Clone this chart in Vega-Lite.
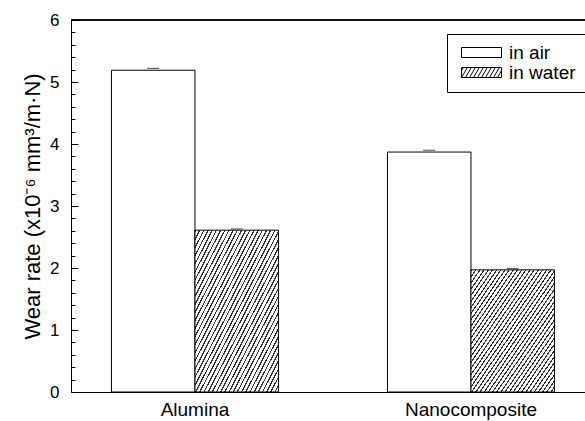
{
 "$schema": "https://vega.github.io/schema/vega-lite/v6.json",
 "width": 514, "height": 372,
 "autosize": {"type": "none"},
 "padding": {"left": 71, "top": 20, "right": 0, "bottom": 29},
 "background": "white",
 "data": {"values": [
  {"material": "Alumina", "condition": "in air", "rate": 5.19, "hi": 5.22},
  {"material": "Alumina", "condition": "in water", "rate": 2.61, "hi": 2.63},
  {"material": "Nanocomposite", "condition": "in air", "rate": 3.87, "hi": 3.9},
  {"material": "Nanocomposite", "condition": "in water", "rate": 1.97, "hi": 1.99}
 ]},
 "layer": [
  {"mark": {"type": "bar", "stroke": "black", "strokeWidth": 1},
   "encoding": {
    "x": {"field": "material", "type": "nominal", "sort": ["Alumina", "Nanocomposite"],
     "scale": {"paddingInner": 0.395, "paddingOuter": 0.1286, "align": 0.57},
     "axis": {"title": null, "labelAngle": 0, "ticks": false, "domain": true, "domainColor": "black", "domainWidth": 1, "labelPadding": 8, "labelFontSize": 19, "labelColor": "black", "labelFont": "Liberation Sans"}},
    "xOffset": {"field": "condition", "type": "nominal", "sort": ["in air", "in water"], "scale": {"paddingInner": 0, "paddingOuter": 0}},
    "y": {"field": "rate", "type": "quantitative", "title": "Wear rate (x10⁻⁶ mm³/m·N)",
     "scale": {"domain": [0, 6], "nice": false},
     "axis": {"values": [0, 1, 2, 3, 4, 5, 6], "format": "d", "labelOverlap": false,
      "tickSize": -7, "tickColor": "black", "domain": true, "domainColor": "black", "domainWidth": 1, "grid": false,
      "labelPadding": 19, "labelFontSize": 17, "labelColor": "black", "labelFont": "Liberation Sans",
      "titleFontSize": 22, "titleFontWeight": "normal", "titleColor": "black", "titleFont": "Liberation Sans", "titlePadding": 5}},
    "fill": {"condition": {"test": "datum.condition === 'in water'", "value": {"gradient": "linear", "x1": 0, "y1": 0, "x2": 1, "y2": 1, "stops": [
      {"offset":0,"color":"#333"},{"offset":0.008,"color":"#333"},{"offset":0.008,"color":"#fff"},{"offset":0.025,"color":"#fff"},
      {"offset":0.025,"color":"#333"},{"offset":0.033,"color":"#333"},{"offset":0.033,"color":"#fff"},{"offset":0.05,"color":"#fff"},
      {"offset":0.05,"color":"#333"},{"offset":0.058,"color":"#333"},{"offset":0.058,"color":"#fff"},{"offset":0.075,"color":"#fff"},
      {"offset":0.075,"color":"#333"},{"offset":0.083,"color":"#333"},{"offset":0.083,"color":"#fff"},{"offset":0.1,"color":"#fff"},
      {"offset":0.1,"color":"#333"},{"offset":0.108,"color":"#333"},{"offset":0.108,"color":"#fff"},{"offset":0.125,"color":"#fff"},
      {"offset":0.125,"color":"#333"},{"offset":0.133,"color":"#333"},{"offset":0.133,"color":"#fff"},{"offset":0.15,"color":"#fff"},
      {"offset":0.15,"color":"#333"},{"offset":0.158,"color":"#333"},{"offset":0.158,"color":"#fff"},{"offset":0.175,"color":"#fff"},
      {"offset":0.175,"color":"#333"},{"offset":0.183,"color":"#333"},{"offset":0.183,"color":"#fff"},{"offset":0.2,"color":"#fff"},
      {"offset":0.2,"color":"#333"},{"offset":0.208,"color":"#333"},{"offset":0.208,"color":"#fff"},{"offset":0.225,"color":"#fff"},
      {"offset":0.225,"color":"#333"},{"offset":0.233,"color":"#333"},{"offset":0.233,"color":"#fff"},{"offset":0.25,"color":"#fff"},
      {"offset":0.25,"color":"#333"},{"offset":0.258,"color":"#333"},{"offset":0.258,"color":"#fff"},{"offset":0.275,"color":"#fff"},
      {"offset":0.275,"color":"#333"},{"offset":0.283,"color":"#333"},{"offset":0.283,"color":"#fff"},{"offset":0.3,"color":"#fff"},
      {"offset":0.3,"color":"#333"},{"offset":0.308,"color":"#333"},{"offset":0.308,"color":"#fff"},{"offset":0.325,"color":"#fff"},
      {"offset":0.325,"color":"#333"},{"offset":0.333,"color":"#333"},{"offset":0.333,"color":"#fff"},{"offset":0.35,"color":"#fff"},
      {"offset":0.35,"color":"#333"},{"offset":0.358,"color":"#333"},{"offset":0.358,"color":"#fff"},{"offset":0.375,"color":"#fff"},
      {"offset":0.375,"color":"#333"},{"offset":0.383,"color":"#333"},{"offset":0.383,"color":"#fff"},{"offset":0.4,"color":"#fff"},
      {"offset":0.4,"color":"#333"},{"offset":0.408,"color":"#333"},{"offset":0.408,"color":"#fff"},{"offset":0.425,"color":"#fff"},
      {"offset":0.425,"color":"#333"},{"offset":0.433,"color":"#333"},{"offset":0.433,"color":"#fff"},{"offset":0.45,"color":"#fff"},
      {"offset":0.45,"color":"#333"},{"offset":0.458,"color":"#333"},{"offset":0.458,"color":"#fff"},{"offset":0.475,"color":"#fff"},
      {"offset":0.475,"color":"#333"},{"offset":0.483,"color":"#333"},{"offset":0.483,"color":"#fff"},{"offset":0.5,"color":"#fff"},
      {"offset":0.5,"color":"#333"},{"offset":0.508,"color":"#333"},{"offset":0.508,"color":"#fff"},{"offset":0.525,"color":"#fff"},
      {"offset":0.525,"color":"#333"},{"offset":0.533,"color":"#333"},{"offset":0.533,"color":"#fff"},{"offset":0.55,"color":"#fff"},
      {"offset":0.55,"color":"#333"},{"offset":0.558,"color":"#333"},{"offset":0.558,"color":"#fff"},{"offset":0.575,"color":"#fff"},
      {"offset":0.575,"color":"#333"},{"offset":0.583,"color":"#333"},{"offset":0.583,"color":"#fff"},{"offset":0.6,"color":"#fff"},
      {"offset":0.6,"color":"#333"},{"offset":0.608,"color":"#333"},{"offset":0.608,"color":"#fff"},{"offset":0.625,"color":"#fff"},
      {"offset":0.625,"color":"#333"},{"offset":0.633,"color":"#333"},{"offset":0.633,"color":"#fff"},{"offset":0.65,"color":"#fff"},
      {"offset":0.65,"color":"#333"},{"offset":0.658,"color":"#333"},{"offset":0.658,"color":"#fff"},{"offset":0.675,"color":"#fff"},
      {"offset":0.675,"color":"#333"},{"offset":0.683,"color":"#333"},{"offset":0.683,"color":"#fff"},{"offset":0.7,"color":"#fff"},
      {"offset":0.7,"color":"#333"},{"offset":0.708,"color":"#333"},{"offset":0.708,"color":"#fff"},{"offset":0.725,"color":"#fff"},
      {"offset":0.725,"color":"#333"},{"offset":0.733,"color":"#333"},{"offset":0.733,"color":"#fff"},{"offset":0.75,"color":"#fff"},
      {"offset":0.75,"color":"#333"},{"offset":0.758,"color":"#333"},{"offset":0.758,"color":"#fff"},{"offset":0.775,"color":"#fff"},
      {"offset":0.775,"color":"#333"},{"offset":0.783,"color":"#333"},{"offset":0.783,"color":"#fff"},{"offset":0.8,"color":"#fff"},
      {"offset":0.8,"color":"#333"},{"offset":0.808,"color":"#333"},{"offset":0.808,"color":"#fff"},{"offset":0.825,"color":"#fff"},
      {"offset":0.825,"color":"#333"},{"offset":0.833,"color":"#333"},{"offset":0.833,"color":"#fff"},{"offset":0.85,"color":"#fff"},
      {"offset":0.85,"color":"#333"},{"offset":0.858,"color":"#333"},{"offset":0.858,"color":"#fff"},{"offset":0.875,"color":"#fff"},
      {"offset":0.875,"color":"#333"},{"offset":0.883,"color":"#333"},{"offset":0.883,"color":"#fff"},{"offset":0.9,"color":"#fff"},
      {"offset":0.9,"color":"#333"},{"offset":0.908,"color":"#333"},{"offset":0.908,"color":"#fff"},{"offset":0.925,"color":"#fff"},
      {"offset":0.925,"color":"#333"},{"offset":0.933,"color":"#333"},{"offset":0.933,"color":"#fff"},{"offset":0.95,"color":"#fff"},
      {"offset":0.95,"color":"#333"},{"offset":0.958,"color":"#333"},{"offset":0.958,"color":"#fff"},{"offset":0.975,"color":"#fff"},
      {"offset":0.975,"color":"#333"},{"offset":0.983,"color":"#333"},{"offset":0.983,"color":"#fff"},{"offset":1,"color":"#fff"}
     ]}}, "value": "white"}
   }
  },
  {"mark": {"type": "tick", "color": "black", "size": 12, "thickness": 1},
   "encoding": {
    "x": {"field": "material", "type": "nominal", "sort": ["Alumina", "Nanocomposite"], "axis": null},
    "xOffset": {"field": "condition", "type": "nominal", "sort": ["in air", "in water"]},
    "y": {"field": "hi", "type": "quantitative",
     "axis": {"orient": "left", "title": null, "labels": false, "domain": false, "grid": false,
      "values": [0.2,0.4,0.6,0.8,1.2,1.4,1.6,1.8,2.2,2.4,2.6,2.8,3.2,3.4,3.6,3.8,4.2,4.4,4.6,4.8,5.2,5.4,5.6,5.8],
      "tickSize": -4, "tickColor": "black"}}}},
  {"mark": {"type": "rule", "color": "black", "strokeWidth": 1},
   "encoding": {"y": {"datum": 6, "type": "quantitative", "axis": null}}},
  {"mark": {"type": "point", "size": 0, "opacity": 1, "filled": false, "color": "black", "strokeWidth": 1},
   "encoding": {
    "x": {"field": "material", "type": "nominal", "sort": ["Alumina", "Nanocomposite"], "axis": null},
    "xOffset": {"field": "condition", "type": "nominal", "sort": ["in air", "in water"]},
    "y": {"field": "rate", "type": "quantitative", "axis": null},
    "shape": {"field": "condition", "type": "nominal", "sort": ["in air", "in water"],
     "scale": {"range": ["M-4,-1H4V1H-4Z", "M-4,-1H4V1H-4ZM-4,1L-2.84,-1M-3.2,1L-2.04,-1M-2.4,1L-1.24,-1M-1.6,1L-0.44,-1M-0.8,1L0.36,-1M0,1L1.16,-1M0.8,1L1.96,-1M1.6,1L2.76,-1M2.4,1L3.56,-1M3.2,1L4,-0.38M-4,-0.38L-3.64,-1"]},
     "legend": {"orient": "none", "legendX": 376, "legendY": 14, "title": null,
      "strokeColor": "black", "padding": 9, "fillColor": "white",
      "symbolSize": 100, "symbolOffset": 16, "symbolOpacity": 1,
      "symbolStrokeWidth": 1, "symbolStrokeColor": "black", "symbolFillColor": "white",
      "labelFontSize": 19, "labelFont": "Liberation Sans", "labelColor": "black", "labelOffset": 18, "rowPadding": -3}}
   }
  }
 ],
 "resolve": {"axis": {"x": "independent", "y": "independent"}},
 "config": {
  "view": {"stroke": null},
  "font": "Liberation Sans"
 }
}
